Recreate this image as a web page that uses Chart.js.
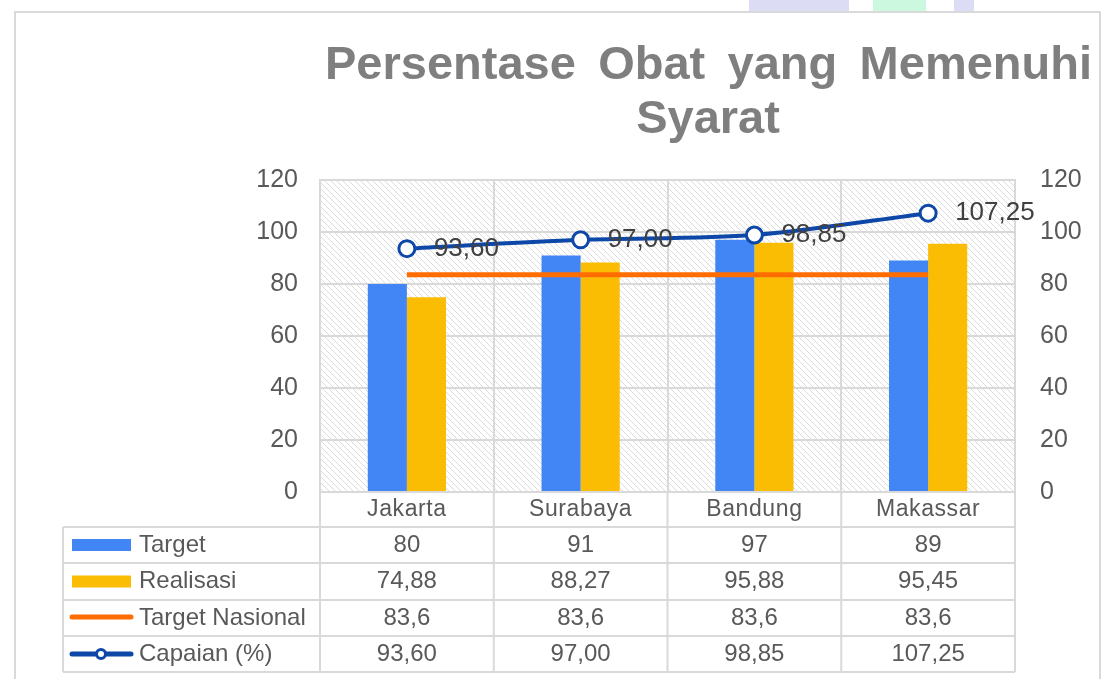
<!DOCTYPE html>
<html>
<head>
<meta charset="utf-8">
<script src="https://cdn.jsdelivr.net/npm/chart.js@4.4.1/dist/chart.umd.min.js"></script>
<style>
    html, body { margin: 0; padding: 0; background: #fff; }
    #wrap { position: relative; width: 1106px; height: 679px; overflow: hidden; }
    #frame { position: absolute; left: 14px; top: 11px; width: 1087px; height: 700px; border: 2px solid #d9d9d9; box-sizing: border-box; }
    .deco { position: absolute; top: 0; height: 11px; }
    canvas { position: absolute; left: 0; top: 0; }
</style>
</head>
<body>
<div id="wrap">
    <div class="deco" style="left:749px;width:100px;background:#dcdcf5"></div>
    <div class="deco" style="left:873px;width:53px;background:#ccf8e0"></div>
    <div class="deco" style="left:954px;width:20px;background:#dcdcf5"></div>
    <div id="frame"></div>
    <canvas id="obatChart" width="1106" height="679"></canvas>
</div>
<script>
const categories = ['Jakarta', 'Surabaya', 'Bandung', 'Makassar'];
const target = [80, 91, 97, 89];
const realisasi = [74.88, 88.27, 95.88, 95.45];
const targetNasional = [83.6, 83.6, 83.6, 83.6];
const capaian = [93.60, 97.00, 98.85, 107.25];
const yTicks = [0, 20, 40, 60, 80, 100, 120];

const FONT = "'Liberation Sans', Arial, sans-serif";
const GRID = '#d9d9d9';
const TXT = '#595959';

function fmt(v, d) {
    return v.toFixed(d).replace('.', ',');
}

// hatched plot background
function hatchPattern(ctx) {
    const c = document.createElement('canvas');
    c.width = 6; c.height = 6;
    const p = c.getContext('2d');
    p.fillStyle = '#fff';
    p.fillRect(0, 0, 6, 6);
    p.fillStyle = '#dcdcdc';
    for (let i = 0; i < 6; i++) p.fillRect(i, i, 1, 1);
    return ctx.createPattern(c, 'repeat');
}

const backgroundPlugin = {
    id: 'hatch',
    beforeDraw(chart) {
        const { ctx, chartArea: a } = chart;
        ctx.save();
        ctx.fillStyle = hatchPattern(ctx);
        ctx.fillRect(a.left, a.top, a.right - a.left, a.bottom - a.top);
        ctx.restore();
    }
};

const titlePlugin = {
    id: 'bigTitle',
    afterDraw(chart) {
        const ctx = chart.ctx;
        ctx.save();
        ctx.fillStyle = '#7f7f7f';
        ctx.font = 'bold 47px ' + FONT;
        ctx.textBaseline = 'alphabetic';
        // first line spread between x=325 and x=1092 like the original
        const words = ['Persentase', 'Obat', 'yang', 'Memenuhi'];
        const widths = words.map(w => ctx.measureText(w).width);
        const total = widths.reduce((s, w) => s + w, 0);
        const gap = (767 - total) / (words.length - 1);
        let x = 325;
        ctx.textAlign = 'left';
        words.forEach((w, i) => {
            ctx.fillText(w, x, 79);
            x += widths[i] + gap;
        });
        ctx.textAlign = 'center';
        ctx.fillText('Syarat', 708, 133);
        ctx.restore();
    }
};

const labelPlugin = {
    id: 'capaianLabels',
    afterDatasetsDraw(chart) {
        const ctx = chart.ctx;
        const meta = chart.getDatasetMeta(3);
        ctx.save();
        ctx.fillStyle = '#404040';
        ctx.font = '26px ' + FONT;
        ctx.textAlign = 'left';
        ctx.textBaseline = 'middle';
        meta.data.forEach((pt, i) => {
            ctx.fillText(fmt(capaian[i], 2), pt.x + 27, pt.y);
        });
        ctx.restore();
    }
};

// data table under the plot
const tablePlugin = {
    id: 'dataTable',
    afterDraw(chart) {
        const ctx = chart.ctx;
        const a = chart.chartArea;
        const xs = chart.scales.x;
        const rowLines = [527, 563, 600, 636, 672];
        const left = 63;
        const step = (a.right - a.left) / categories.length;

        ctx.save();
        ctx.strokeStyle = GRID;
        ctx.lineWidth = 2;
        ctx.beginPath();
        rowLines.forEach(y => { ctx.moveTo(left, y); ctx.lineTo(a.right, y); });
        for (let i = 0; i <= categories.length; i++) {
            const x = a.left + step * i;
            ctx.moveTo(x, a.bottom); ctx.lineTo(x, 672);
        }
        ctx.moveTo(left, 527); ctx.lineTo(left, 672);
        ctx.stroke();

        ctx.fillStyle = TXT;
        ctx.textAlign = 'center';
        ctx.textBaseline = 'middle';
        ctx.font = '23px ' + FONT;
        ctx.letterSpacing = '0.6px';
        categories.forEach((c, i) => ctx.fillText(c, xs.getPixelForValue(i), 510));
        ctx.letterSpacing = '0px';

        const rows = [
            { name: 'Target', vals: target.map(v => fmt(v, 0)) },
            { name: 'Realisasi', vals: realisasi.map(v => fmt(v, 2)) },
            { name: 'Target Nasional', vals: targetNasional.map(v => fmt(v, 1)) },
            { name: 'Capaian (%)', vals: capaian.map(v => fmt(v, 2)) }
        ];
        ctx.font = '24px ' + FONT;
        rows.forEach((r, ri) => {
            const yc = (rowLines[ri] + rowLines[ri + 1]) / 2;
            r.vals.forEach((v, i) => ctx.fillText(v, xs.getPixelForValue(i), yc));
            ctx.textAlign = 'left';
            ctx.fillText(r.name, 139, yc);
            ctx.textAlign = 'center';
        });

        // legend keys
        let yc = (rowLines[0] + rowLines[1]) / 2;
        ctx.fillStyle = '#4285f4';
        ctx.fillRect(72, yc - 6, 59, 12);
        yc = (rowLines[1] + rowLines[2]) / 2;
        ctx.fillStyle = '#fbbc04';
        ctx.fillRect(72, yc - 6, 59, 12);
        ctx.lineCap = 'round';
        ctx.lineWidth = 5;
        yc = (rowLines[2] + rowLines[3]) / 2 - 1;
        ctx.strokeStyle = '#ff6d01';
        ctx.beginPath(); ctx.moveTo(72, yc); ctx.lineTo(131, yc); ctx.stroke();
        yc = (rowLines[3] + rowLines[4]) / 2;
        ctx.strokeStyle = '#0d47a8';
        ctx.beginPath(); ctx.moveTo(72, yc); ctx.lineTo(131, yc); ctx.stroke();
        ctx.lineWidth = 3;
        ctx.fillStyle = '#fff';
        ctx.beginPath(); ctx.arc(101, yc, 4.5, 0, Math.PI * 2); ctx.fill(); ctx.stroke();
        ctx.restore();
    }
};

const ctx = document.getElementById('obatChart').getContext('2d');
new Chart(ctx, {
    type: 'bar',
    data: {
        labels: categories,
        datasets: [
            {
                label: 'Target',
                data: target,
                backgroundColor: '#4285f4',
                order: 2
            },
            {
                label: 'Realisasi',
                data: realisasi,
                backgroundColor: '#fbbc04',
                order: 2
            },
            {
                type: 'line',
                label: 'Target Nasional',
                data: targetNasional,
                borderColor: '#ff6d01',
                borderWidth: 5,
                pointRadius: 0,
                order: 1
            },
            {
                type: 'line',
                label: 'Capaian (%)',
                data: capaian,
                yAxisID: 'y1',
                borderColor: '#0d47a8',
                borderWidth: 4,
                tension: 0.3,
                pointRadius: 8,
                pointBorderWidth: 3,
                pointBackgroundColor: '#ffffff',
                pointBorderColor: '#0d47a8',
                order: 0
            }
        ]
    },
    options: {
        responsive: false,
        animation: false,
        devicePixelRatio: 1,
        layout: {
            padding: { top: 180, left: 0, right: 0, bottom: 0 }
        },
        datasets: {
            bar: {
                categoryPercentage: 0.45,
                barPercentage: 1.0
            }
        },
        plugins: {
            legend: { display: false },
            title: { display: false },
            tooltip: { enabled: false }
        },
        scales: {
            x: {
                ticks: { display: false },
                grid: { color: GRID, lineWidth: 2, drawTicks: false },
                border: { color: GRID, width: 2 },
                afterFit: s => { s.height = 187; }
            },
            y: {
                position: 'left',
                min: 0,
                max: 120,
                afterBuildTicks: s => { s.ticks = yTicks.map(v => ({ value: v })); },
                ticks: {
                    color: TXT,
                    padding: 22,
                    font: { family: FONT, size: 25 }
                },
                grid: { color: GRID, lineWidth: 2, drawTicks: false },
                border: { color: GRID, width: 2 },
                afterFit: s => { s.width = 320; }
            },
            y1: {
                position: 'right',
                min: 0,
                max: 120,
                afterBuildTicks: s => { s.ticks = yTicks.map(v => ({ value: v })); },
                ticks: {
                    color: TXT,
                    padding: 25,
                    font: { family: FONT, size: 25 }
                },
                grid: { display: false, drawTicks: false },
                border: { color: GRID, width: 2 },
                afterFit: s => { s.width = 91; }
            }
        }
    },
    plugins: [backgroundPlugin, labelPlugin, tablePlugin, titlePlugin]
});
</script>
</body>
</html>
